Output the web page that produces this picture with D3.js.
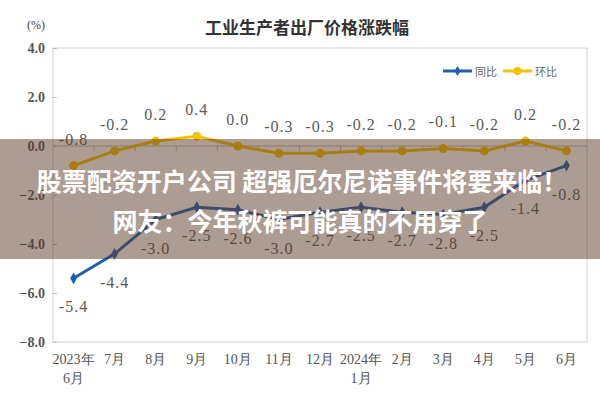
<!DOCTYPE html>
<html><head><meta charset="utf-8">
<script src="https://cdn.jsdelivr.net/npm/d3@7"></script>
<style>body{margin:0;background:#fff}svg{display:block}</style>
</head><body>
<svg id="c" width="600" height="400"></svg>
<script>
const months = [["2023年","6月"],["7月"],["8月"],["9月"],["10月"],["11月"],["12月"],["2024年","1月"],["2月"],["3月"],["4月"],["5月"],["6月"]];
const yoy = [-5.4,-4.4,-3.0,-2.5,-2.6,-3.0,-2.7,-2.5,-2.7,-2.8,-2.5,-1.4,-0.8];
const mom = [-0.8,-0.2,0.2,0.4,0.0,-0.3,-0.3,-0.2,-0.2,-0.1,-0.2,0.2,-0.2];
const yTicks = [4.0,2.0,0.0,-2.0,-4.0,-6.0,-8.0];
const seriesNames = ["同比","环比"];
const title = "工业生产者出厂价格涨跌幅";
const bannerLines = ["股票配资开户公司 超强厄尔尼诺事件将要来临！","网友：今年秋裤可能真的不用穿了"];

const svg = d3.select("#c");
const L=53,R=587,T=48,B=342;
const x = d3.scaleBand().domain(d3.range(months.length)).range([L,R]).padding(0);
const y = d3.scaleLinear().domain([-8,4]).range([B,T]);
const cx = i => x(i)+x.bandwidth()/2;
const blue="#1f5fb0", yellow="#f5c200", serif="'Liberation Serif','DejaVu Serif',serif", cjk="'Noto Sans CJK SC','Noto Sans',sans-serif";

svg.append("text").attr("x",307).attr("y",34).attr("text-anchor","middle")
  .attr("font-family",cjk).attr("font-weight","bold").attr("font-size",17).attr("fill","#333").text(title);
svg.append("text").attr("x",36).attr("y",29).attr("text-anchor","middle")
  .attr("font-family",serif).attr("font-size",12).attr("fill","#444").text("(%)");

// frame
svg.append("rect").attr("x",L).attr("y",T).attr("width",R-L).attr("height",B-T)
  .attr("fill","none").attr("stroke","#cfcfcf").attr("stroke-width",1);

// y axis
const ya = svg.append("g").attr("transform",`translate(${L},0)`)
  .call(d3.axisLeft(y).tickValues(yTicks).tickFormat(d3.format(".1f")).tickSizeInner(-4).tickSizeOuter(0).tickPadding(8));
ya.select(".domain").remove();
ya.selectAll("line").attr("stroke","#bbb");
ya.selectAll("text").attr("font-family",serif).attr("font-size",14).attr("font-weight","bold").attr("fill","#555");

// zero axis with ticks at band boundaries
svg.append("line").attr("x1",L).attr("x2",R).attr("y1",y(0)).attr("y2",y(0)).attr("stroke","#bbb");
svg.append("g").selectAll("line").data(d3.range(1,months.length)).join("line")
  .attr("x1",i=>x(i)).attr("x2",i=>x(i)).attr("y1",y(0)).attr("y2",y(0)+5).attr("stroke","#bbb");

// x labels
const xl = svg.append("g");
months.forEach((m,i)=>{
  const t = xl.append("text").attr("x",cx(i)).attr("y",364).attr("text-anchor","middle")
    .attr("font-family",serif).attr("font-size",14).attr("fill","#555");
  m.forEach((s,k)=>t.append("tspan").attr("x",cx(i)).attr("dy",k?19:0).text(s));
});

// lines
const line = d3.line().x((d,i)=>cx(i)).y(d=>y(d));
svg.append("path").datum(mom).attr("d",line).attr("fill","none").attr("stroke",yellow).attr("stroke-width",3);
svg.append("path").datum(yoy).attr("d",line).attr("fill","none").attr("stroke",blue).attr("stroke-width",3);
svg.append("g").selectAll("circle").data(mom).join("circle").attr("cx",(d,i)=>cx(i)).attr("cy",d=>y(d)).attr("r",4.5).attr("fill",yellow);
svg.append("g").selectAll("path").data(yoy).join("path")
  .attr("transform",(d,i)=>`translate(${cx(i)},${y(d)})`).attr("d",d3.symbol(d3.symbolDiamond,40)).attr("fill",blue);

// data labels
const fmt = d=>d.toFixed(1);
svg.append("g").selectAll("text").data(mom).join("text").attr("x",(d,i)=>cx(i)).attr("y",d=>y(d)-21)
  .attr("text-anchor","middle").attr("font-family",serif).attr("font-size",16).attr("letter-spacing",1).attr("fill","#5a5a5a").text(fmt);
svg.append("g").selectAll("text").data(yoy).join("text").attr("x",(d,i)=>cx(i)).attr("y",d=>y(d)+34)
  .attr("text-anchor","middle").attr("font-family",serif).attr("font-size",16).attr("letter-spacing",1).attr("fill","#5a5a5a").text(fmt);

// legend
const lg = svg.append("g");
[[443,blue,"d"],[503,yellow,"c"]].forEach(([lx,col,mk],k)=>{
  lg.append("line").attr("x1",lx).attr("x2",lx+29).attr("y1",71).attr("y2",71).attr("stroke",col).attr("stroke-width",3);
  if(mk==="c") lg.append("circle").attr("cx",lx+14.5).attr("cy",71).attr("r",4).attr("fill",col);
  else lg.append("path").attr("transform",`translate(${lx+14.5},71)`).attr("d",d3.symbol(d3.symbolDiamond,30)).attr("fill",col);
  lg.append("text").attr("x",lx+32).attr("y",75.5).attr("font-family",cjk).attr("font-size",11).attr("fill","#666").text(seriesNames[k]);
});

// overlay banner
svg.append("rect").attr("x",0).attr("y",139).attr("width",600).attr("height",120).attr("fill","rgba(92,58,38,0.5)");
bannerLines.forEach((s,k)=>{
  svg.append("text").attr("x",k?300:302).attr("y",k?231:191).attr("text-anchor","middle")
    .attr("font-family",cjk).attr("font-weight","bold").attr("font-size",25).attr("fill","#fff").text(s);
});
</script>
</body></html>
